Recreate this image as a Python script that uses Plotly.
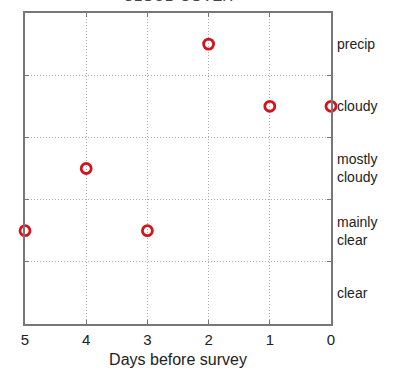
import plotly.graph_objects as go

days = [5, 4, 3, 2, 1, 0]
cover = [2, 3, 2, 5, 4, 4]
cover_levels = [1, 2, 3, 4, 5]
cover_labels = ["clear", "mainly<br>clear", "mostly<br>cloudy", "cloudy", "precip"]
x_ticks = [0, 1, 2, 3, 4, 5]
grid_bounds = [1.5, 2.5, 3.5, 4.5]

font = "Liberation Sans, Arial, sans-serif"

fig = go.Figure()
fig.add_trace(go.Scatter(
    x=days, y=cover, mode="markers",
    marker=dict(symbol="circle-open", size=10, color="#d4141c", line=dict(width=2.8, color="#d4141c")),
    cliponaxis=False, showlegend=False,
))
# invisible trace so the right-hand category axis is drawn
fig.add_trace(go.Scatter(
    x=[days[0]], y=[cover[0]], yaxis="y2", mode="markers",
    marker=dict(opacity=0), showlegend=False, hoverinfo="skip",
))

fig.update_layout(
    width=400, height=370,
    margin=dict(l=25, r=69, t=13, b=46, autoexpand=False),
    paper_bgcolor="white", plot_bgcolor="white",
    font=dict(family=font, size=15, color="#222"),
    xaxis=dict(
        range=[5, 0], tickvals=x_ticks, ticks="inside", ticklen=4, tickcolor="#777",
        showline=True, linecolor="#777", linewidth=1.5, mirror="ticks", automargin=False,
        showgrid=True, gridcolor="#aaa", griddash="1px,2px", gridwidth=1,
        zeroline=False, tickfont=dict(size=15, color="#222"), ticklabelstandoff=1,
        title=dict(text="Days before survey", font=dict(size=16, color="#222"), standoff=7),
    ),
    yaxis=dict(
        range=[0.5, 5.5], tickvals=grid_bounds, showticklabels=False, automargin=False,
        ticks="inside", ticklen=4, tickcolor="#777",
        showline=True, linecolor="#777", linewidth=1.5, mirror="ticks",
        showgrid=True, gridcolor="#aaa", griddash="1px,2px", gridwidth=1, zeroline=False,
    ),
    yaxis2=dict(
        range=[0.5, 5.5], overlaying="y", side="right", anchor="x", automargin=False,
        tickvals=cover_levels, ticktext=cover_labels, ticks="",
        showgrid=False, showline=False, zeroline=False, ticklabelstandoff=5,
        tickfont=dict(size=14, color="#222"),
    ),
    annotations=[dict(
        text="CLOUD COVER", xref="paper", yref="paper", x=0.5, y=1,
        xanchor="center", yanchor="bottom", yshift=7, showarrow=False,
        font=dict(size=15, color="#444"),
    )],
)

fig.write_html("out.html")
